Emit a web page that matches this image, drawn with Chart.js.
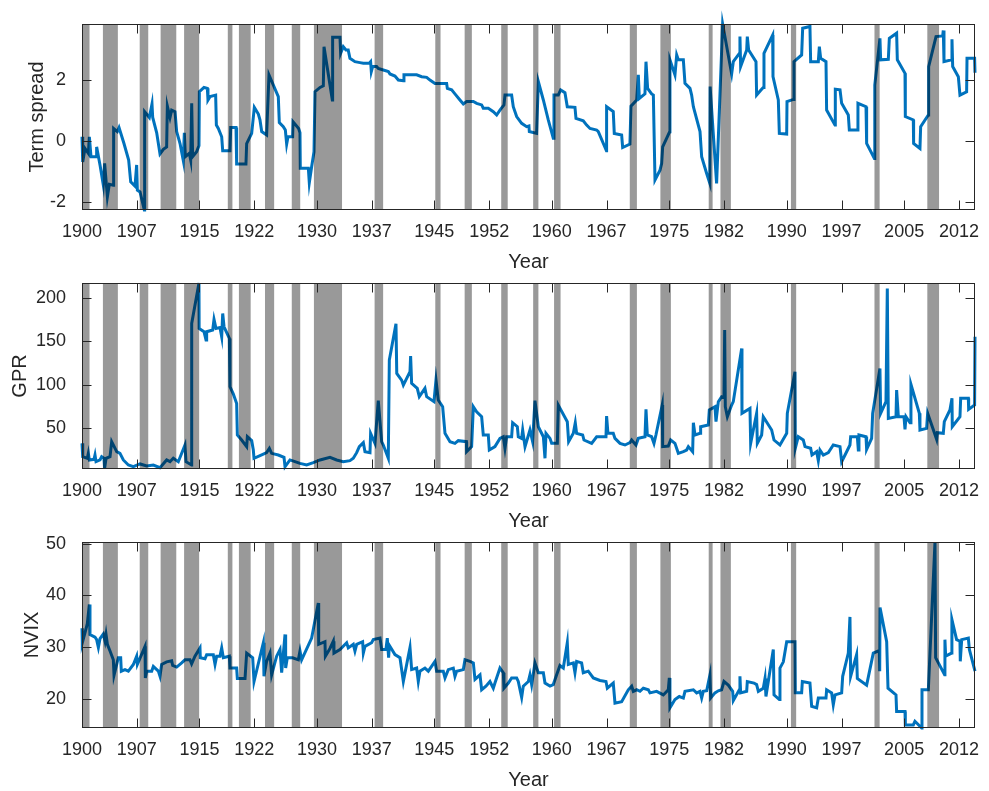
<!DOCTYPE html>
<html><head><meta charset="utf-8">
<script src="https://cdn.jsdelivr.net/npm/chart.js@4.4.0/dist/chart.umd.min.js"></script>
<style>
html,body{margin:0;padding:0;background:#fff;}
body{width:989px;height:791px;position:relative;overflow:hidden;}
.panel{position:absolute;left:0;width:989px;height:274px;}
</style></head><body>
<div class="panel" style="top:0px"><canvas id="c1" width="989" height="274"></canvas></div>
<div class="panel" style="top:259px"><canvas id="c2" width="989" height="274"></canvas></div>
<div class="panel" style="top:518px"><canvas id="c3" width="989" height="274"></canvas></div>
<script>
// ---------- data ----------
const yearTicks = [1900,1907,1915,1922,1930,1937,1945,1952,1960,1967,1975,1982,1990,1997,2005,2012];
const spreadTicks = [-2,0,2];
const gprTicks = [50,100,150,200];
const nvixTicks = [20,30,40,50];

const recessionStart = [1899.50,1902.67,1907.37,1910.04,1913.04,1918.62,1920.04,1923.37,1926.79,1929.62,1937.37,1945.12,1948.87,1953.54,1957.62,1960.29,1969.96,1973.87,1980.04,1981.54,1990.54,2001.21,2007.96];
const recessionEnd   = [1900.96,1904.58,1908.46,1912.04,1914.96,1919.21,1921.54,1924.54,1927.87,1933.21,1938.46,1945.79,1949.79,1954.37,1958.29,1961.12,1970.87,1975.21,1980.54,1982.87,1991.21,2001.87,2009.46];

const termSpread = [[1900.00,0.14],[1900.09,-0.68],[1900.38,-0.24],[1900.81,-0.40],[1900.94,0.14],[1901.15,-0.51],[1901.79,-0.51],[1901.87,-0.19],[1902.30,-0.78],[1902.72,-1.43],[1902.89,-0.73],[1903.24,-1.82],[1903.49,-1.41],[1904.00,-1.44],[1904.04,0.41],[1904.51,0.31],[1904.73,0.44],[1905.36,-0.08],[1905.96,-0.62],[1906.22,-1.33],[1906.77,-1.47],[1906.98,-0.78],[1907.07,-1.60],[1907.41,-1.66],[1907.96,-2.25],[1908.00,0.96],[1908.60,0.77],[1908.94,1.21],[1909.03,0.77],[1909.54,0.27],[1909.96,-0.42],[1910.39,-0.27],[1910.81,-0.19],[1910.90,1.14],[1911.24,0.77],[1911.45,1.01],[1911.88,0.96],[1912.09,0.31],[1912.52,-0.08],[1912.94,-0.64],[1913.07,0.27],[1913.20,-0.51],[1913.71,-0.40],[1913.88,-0.62],[1914.01,1.23],[1914.13,-0.51],[1914.64,-0.35],[1914.94,-0.15],[1914.99,1.61],[1915.58,1.75],[1916.01,1.72],[1916.09,1.34],[1916.35,1.45],[1917.07,1.50],[1917.16,0.52],[1917.41,0.41],[1917.84,0.14],[1917.97,-0.32],[1918.90,-0.32],[1918.99,0.44],[1919.67,0.44],[1919.75,-0.75],[1920.94,-0.75],[1921.03,-0.08],[1921.67,0.25],[1922.01,1.10],[1922.52,0.88],[1922.73,0.69],[1922.95,0.31],[1923.58,0.20],[1923.88,2.16],[1925.07,1.45],[1925.20,0.60],[1925.71,0.47],[1925.97,0.36],[1926.14,-0.10],[1926.31,0.14],[1926.90,0.14],[1926.95,0.63],[1927.67,0.41],[1927.84,0.27],[1927.88,-0.89],[1928.91,-0.89],[1929.03,-1.36],[1929.33,-0.84],[1929.63,-0.35],[1929.76,1.61],[1930.40,1.75],[1930.82,1.80],[1930.91,3.08],[1931.97,1.34],[1932.01,3.39],[1932.95,3.39],[1933.03,2.86],[1933.37,3.08],[1933.71,2.97],[1934.00,2.97],[1934.22,2.70],[1934.86,2.59],[1935.50,2.56],[1935.93,2.54],[1936.69,2.54],[1936.86,2.59],[1936.95,2.27],[1937.12,2.43],[1937.63,2.43],[1937.84,2.37],[1938.48,2.32],[1939.12,2.27],[1939.33,2.19],[1939.97,2.12],[1940.40,1.99],[1941.04,1.97],[1941.12,2.16],[1942.74,2.16],[1943.38,2.10],[1944.02,2.08],[1944.44,1.99],[1945.08,1.88],[1946.57,1.88],[1946.66,1.72],[1947.21,1.67],[1947.63,1.54],[1948.27,1.34],[1948.70,1.21],[1949.12,1.29],[1949.98,1.29],[1950.40,1.23],[1951.04,1.18],[1951.25,1.07],[1951.89,1.07],[1952.53,0.96],[1952.96,0.85],[1953.38,1.01],[1953.89,1.18],[1954.02,1.50],[1954.87,1.50],[1955.08,1.12],[1955.51,0.80],[1956.15,0.58],[1956.79,0.47],[1957.08,0.49],[1957.13,0.31],[1958.06,0.25],[1958.28,1.94],[1958.92,1.34],[1959.55,0.69],[1960.19,0.09],[1960.28,1.50],[1960.83,1.50],[1961.13,1.67],[1961.68,1.58],[1961.98,1.12],[1962.96,1.10],[1963.09,0.74],[1964.02,0.66],[1964.45,0.52],[1964.88,0.41],[1965.73,0.36],[1965.94,0.31],[1966.98,-0.32],[1967.00,1.12],[1967.85,0.96],[1967.98,0.25],[1968.92,0.20],[1969.05,-0.21],[1969.98,-0.10],[1970.11,1.14],[1970.84,1.34],[1971.05,2.16],[1971.18,1.39],[1971.90,1.54],[1972.03,2.59],[1972.24,1.72],[1972.75,1.54],[1972.97,1.50],[1973.18,-1.27],[1973.82,-0.95],[1974.03,-0.73],[1974.16,-0.19],[1975.05,0.30],[1975.09,2.65],[1975.73,2.16],[1975.95,2.81],[1976.16,2.65],[1976.80,2.65],[1977.01,1.88],[1977.65,1.72],[1977.86,1.50],[1978.08,1.12],[1978.93,0.31],[1979.14,-0.51],[1979.78,-1.06],[1980.18,-1.38],[1980.22,1.78],[1981.05,-1.38],[1981.82,3.82],[1982.97,2.19],[1983.18,2.59],[1983.95,2.86],[1984.03,3.41],[1984.12,2.43],[1984.89,2.97],[1984.97,3.41],[1985.14,2.97],[1986.08,2.59],[1986.16,1.50],[1986.80,1.69],[1987.01,1.75],[1987.10,2.86],[1988.21,3.46],[1988.25,2.10],[1988.93,1.34],[1989.06,0.25],[1990.00,0.23],[1990.04,1.29],[1990.85,1.36],[1990.93,2.59],[1991.91,2.81],[1992.04,3.68],[1992.97,3.74],[1993.06,2.59],[1994.04,2.59],[1994.17,3.08],[1994.34,2.70],[1995.02,2.59],[1995.10,1.01],[1996.17,0.52],[1996.21,1.69],[1996.81,1.67],[1997.02,1.23],[1997.87,0.85],[1998.00,0.36],[1999.02,0.36],[1999.10,1.23],[2000.13,1.12],[2000.21,-0.08],[2001.20,-0.57],[2001.25,1.83],[2001.91,3.35],[2002.00,2.65],[2002.98,2.67],[2003.11,3.35],[2004.04,3.52],[2004.13,2.65],[2005.11,2.21],[2005.15,0.80],[2006.17,0.69],[2006.21,-0.08],[2007.02,-0.24],[2007.11,0.47],[2008.09,0.85],[2008.13,2.43],[2009.07,3.41],[2009.92,3.43],[2010.00,3.61],[2010.09,2.59],[2011.07,2.65],[2011.11,3.32],[2011.20,2.43],[2011.92,2.10],[2012.13,1.50],[2012.98,1.61],[2013.03,2.70],[2014.00,2.70],[2014.05,2.23]];

const gpr = [[1900.00,32.7],[1900.09,17.4],[1900.68,15.5],[1900.81,21.2],[1900.94,13.6],[1901.53,14.3],[1901.66,19.3],[1901.79,11.6],[1902.30,13.6],[1902.51,17.4],[1902.81,15.5],[1902.89,4.0],[1903.07,15.5],[1903.58,17.4],[1903.79,34.6],[1904.43,23.1],[1904.85,21.2],[1905.28,13.6],[1905.92,7.8],[1906.56,5.9],[1907.41,9.0],[1908.26,6.7],[1909.11,7.8],[1909.96,4.7],[1910.81,13.6],[1911.24,11.6],[1911.66,15.5],[1912.30,11.6],[1913.15,30.8],[1913.28,11.6],[1914.00,7.8],[1914.01,170.5],[1914.94,217.0],[1914.96,164.8],[1915.58,161.0],[1915.84,151.4],[1915.92,161.0],[1916.69,162.9],[1916.86,175.1],[1917.11,164.8],[1917.62,165.9],[1917.84,155.2],[1917.97,182.0],[1918.14,166.7],[1918.82,153.3],[1918.90,97.8],[1919.33,89.4],[1919.75,78.6],[1919.84,42.3],[1920.39,36.5],[1921.03,28.9],[1921.12,40.3],[1921.67,35.8],[1921.88,25.0],[1921.97,15.5],[1923.16,20.4],[1923.58,22.0],[1923.93,27.0],[1924.22,21.2],[1925.07,19.3],[1925.80,16.6],[1925.93,5.9],[1926.56,13.6],[1927.20,11.6],[1927.84,9.7],[1928.69,7.8],[1929.54,10.5],[1930.40,13.6],[1931.67,16.6],[1932.52,13.6],[1933.37,11.6],[1934.22,12.8],[1934.65,15.5],[1935.08,22.0],[1935.42,28.9],[1935.93,33.5],[1936.14,23.1],[1936.78,22.0],[1936.86,44.2],[1937.42,32.7],[1937.84,81.7],[1938.27,34.6],[1938.48,30.8],[1939.12,15.5],[1939.25,128.4],[1940.10,170.0],[1940.20,113.1],[1940.82,105.4],[1941.04,99.7],[1941.89,115.0],[1941.97,133.0],[1942.10,101.6],[1942.82,95.9],[1943.08,86.3],[1943.80,95.9],[1944.02,86.3],[1944.95,80.6],[1945.21,105.4],[1945.50,82.5],[1946.06,74.8],[1946.36,44.2],[1947.00,34.6],[1947.63,32.7],[1948.06,35.8],[1949.10,34.6],[1949.12,23.1],[1949.76,28.9],[1949.98,74.8],[1950.40,69.0],[1951.04,63.3],[1951.25,42.3],[1951.89,42.3],[1952.02,25.0],[1952.74,28.9],[1953.38,38.4],[1953.81,40.3],[1954.02,27.0],[1954.23,40.3],[1954.87,40.3],[1955.00,56.4],[1955.60,51.8],[1955.72,40.3],[1956.15,38.4],[1956.28,48.0],[1956.58,28.9],[1957.21,48.0],[1957.55,34.6],[1957.85,81.7],[1958.28,51.8],[1958.92,40.3],[1959.13,15.5],[1959.26,44.2],[1959.77,38.4],[1959.98,32.7],[1960.71,32.7],[1960.83,76.7],[1961.98,57.6],[1962.15,34.6],[1962.75,44.2],[1963.00,56.4],[1963.17,44.2],[1963.94,42.3],[1964.11,36.5],[1965.09,32.7],[1965.73,40.3],[1966.37,40.3],[1966.92,40.3],[1967.00,64.0],[1967.17,44.2],[1967.85,44.2],[1968.07,38.4],[1968.71,32.7],[1969.35,30.8],[1969.98,33.5],[1970.20,36.5],[1970.75,30.8],[1971.05,38.4],[1971.90,40.3],[1972.03,71.7],[1972.20,42.3],[1972.75,40.3],[1973.05,32.7],[1973.30,42.3],[1974.10,76.7],[1974.16,28.9],[1974.88,29.6],[1975.18,36.5],[1975.73,32.7],[1976.16,21.2],[1976.80,23.1],[1977.22,25.0],[1977.44,28.9],[1977.99,23.1],[1978.08,56.4],[1978.29,42.3],[1978.93,44.2],[1979.01,51.8],[1979.99,53.7],[1980.12,71.0],[1980.84,74.8],[1980.97,57.6],[1981.27,80.6],[1981.69,86.3],[1981.99,85.5],[1982.08,162.9],[1982.16,74.8],[1982.42,63.3],[1982.97,76.7],[1983.18,80.6],[1984.25,141.8],[1984.29,67.2],[1985.31,72.9],[1985.40,32.7],[1986.16,67.2],[1986.25,32.7],[1986.80,42.3],[1987.01,63.3],[1988.08,48.0],[1988.38,36.5],[1989.14,30.8],[1990.00,44.2],[1990.08,67.2],[1991.06,115.0],[1991.10,27.0],[1991.48,40.3],[1992.12,36.5],[1992.34,28.9],[1993.06,27.0],[1993.23,19.3],[1993.83,23.1],[1994.04,12.8],[1994.25,25.0],[1994.68,19.3],[1995.32,22.0],[1995.95,30.8],[1996.81,28.9],[1997.02,11.6],[1997.45,19.3],[1998.08,30.8],[1998.17,40.3],[1999.02,40.3],[1999.15,25.0],[1999.23,42.3],[2000.13,40.3],[2000.21,25.8],[2000.85,38.4],[2000.98,67.2],[2001.91,118.8],[2002.00,67.2],[2002.68,80.6],[2002.85,210.7],[2002.98,61.4],[2003.96,63.3],[2004.04,94.0],[2004.26,63.3],[2004.98,63.3],[2005.11,48.8],[2005.24,63.3],[2005.75,56.4],[2005.87,100.6],[2006.94,67.2],[2007.02,48.0],[2007.87,49.9],[2008.00,67.2],[2009.15,37.3],[2009.24,45.0],[2010.00,44.2],[2010.13,57.6],[2010.85,71.0],[2011.11,84.4],[2011.15,51.8],[2012.13,63.3],[2012.22,84.4],[2013.20,84.4],[2013.24,71.7],[2014.00,76.7],[2014.05,155.2]];

const nvix = [[1900.00,33.6],[1900.04,30.8],[1900.38,32.7],[1900.68,34.5],[1900.94,38.2],[1901.02,32.4],[1901.66,31.9],[1901.87,31.4],[1902.09,29.9],[1902.30,31.6],[1902.72,32.5],[1902.94,31.1],[1903.07,32.4],[1903.24,30.5],[1903.58,29.2],[1904.00,27.5],[1904.09,24.5],[1904.64,27.9],[1904.94,27.9],[1905.02,25.3],[1905.49,25.6],[1905.92,25.3],[1906.56,26.6],[1906.98,28.2],[1907.07,26.6],[1908.05,30.1],[1908.09,24.0],[1908.26,25.3],[1908.90,25.3],[1909.11,26.2],[1909.75,25.3],[1909.96,24.3],[1910.17,26.6],[1910.81,27.1],[1911.45,27.3],[1911.58,26.4],[1912.09,26.1],[1912.73,26.9],[1913.15,27.5],[1913.79,27.5],[1914.00,26.7],[1914.43,28.2],[1915.07,29.8],[1915.11,27.9],[1915.71,27.7],[1915.92,28.5],[1916.77,28.5],[1916.99,26.6],[1917.20,28.2],[1917.62,28.2],[1917.84,29.8],[1918.05,27.9],[1918.82,28.2],[1918.90,25.9],[1919.75,25.9],[1919.84,23.9],[1920.82,23.9],[1921.03,28.8],[1921.80,27.9],[1921.97,23.3],[1923.16,30.8],[1923.24,24.3],[1923.58,27.2],[1924.01,28.8],[1924.22,24.6],[1924.86,28.2],[1925.29,29.5],[1925.50,25.0],[1925.93,32.4],[1926.01,25.9],[1926.22,27.9],[1926.90,27.9],[1927.63,27.5],[1927.84,29.2],[1928.05,27.5],[1929.33,31.7],[1930.18,38.5],[1930.23,30.5],[1931.03,31.0],[1931.08,28.2],[1931.67,29.7],[1932.10,31.1],[1932.18,28.8],[1932.95,29.5],[1933.80,30.8],[1934.01,29.8],[1934.65,30.5],[1934.86,29.2],[1935.08,30.5],[1935.84,31.0],[1935.93,28.8],[1936.14,30.1],[1936.99,30.8],[1937.20,31.4],[1938.06,31.7],[1938.27,29.5],[1938.82,29.5],[1938.99,31.7],[1939.16,27.9],[1939.25,30.3],[1939.97,28.5],[1940.61,27.9],[1941.04,23.3],[1941.89,29.9],[1942.10,25.6],[1942.74,25.9],[1942.95,23.3],[1943.16,25.3],[1943.80,25.9],[1944.23,25.3],[1945.08,27.2],[1945.29,25.3],[1946.14,25.3],[1946.36,24.0],[1946.78,25.6],[1947.42,25.9],[1947.63,24.3],[1947.85,25.3],[1948.70,25.6],[1948.91,27.5],[1949.55,27.2],[1949.98,26.9],[1950.19,23.7],[1950.83,24.6],[1951.04,21.7],[1951.59,22.4],[1952.10,23.3],[1952.53,22.0],[1952.74,23.0],[1953.38,25.9],[1953.81,25.0],[1953.89,22.0],[1954.45,23.0],[1954.87,24.0],[1955.51,24.0],[1955.72,23.3],[1956.15,20.2],[1956.36,22.4],[1957.00,23.3],[1957.21,24.6],[1957.43,22.7],[1957.85,26.9],[1958.28,25.0],[1958.92,25.0],[1959.13,23.0],[1959.77,22.4],[1960.19,22.7],[1960.62,24.6],[1961.04,26.4],[1961.47,25.9],[1961.98,30.8],[1962.11,26.6],[1962.75,26.9],[1962.96,25.0],[1963.17,27.2],[1963.81,26.9],[1964.02,25.0],[1964.66,25.3],[1965.30,24.0],[1966.15,23.5],[1966.92,23.3],[1967.09,22.0],[1967.85,23.0],[1968.07,19.1],[1968.92,19.4],[1969.77,21.7],[1970.20,22.4],[1970.41,21.4],[1970.84,21.7],[1971.26,21.4],[1971.69,22.0],[1972.33,21.7],[1972.54,21.1],[1973.39,21.4],[1974.24,20.7],[1974.88,21.7],[1975.01,24.0],[1975.09,18.2],[1975.73,19.8],[1976.28,20.4],[1976.80,20.1],[1977.01,21.4],[1978.08,21.7],[1978.50,21.1],[1978.93,21.4],[1979.14,20.1],[1979.35,21.4],[1979.78,21.5],[1980.20,24.6],[1980.29,20.1],[1980.84,21.1],[1981.27,21.5],[1981.69,21.7],[1981.99,23.3],[1982.54,22.6],[1983.10,21.4],[1983.18,19.6],[1983.95,21.7],[1984.03,24.3],[1984.12,21.1],[1984.89,21.4],[1984.97,23.3],[1985.82,23.0],[1986.16,22.7],[1986.38,21.4],[1987.01,22.0],[1987.23,23.9],[1987.35,20.4],[1988.29,29.5],[1988.38,20.7],[1989.06,19.8],[1989.14,25.9],[1989.57,27.1],[1990.00,31.0],[1991.06,31.0],[1991.10,21.1],[1991.91,21.1],[1992.00,23.3],[1992.97,23.0],[1993.19,18.5],[1993.83,18.2],[1994.04,20.1],[1995.02,20.1],[1995.10,21.7],[1995.74,21.1],[1995.95,18.8],[1996.17,20.7],[1997.02,21.1],[1997.15,24.3],[1997.87,28.8],[1998.08,35.8],[1998.17,24.3],[1998.93,28.5],[1999.02,23.9],[2000.21,22.6],[2001.06,28.8],[2001.83,29.3],[2001.88,25.3],[2001.92,37.6],[2002.77,31.0],[2002.94,22.0],[2003.96,20.7],[2004.04,17.5],[2005.11,17.5],[2005.15,14.9],[2006.17,14.9],[2006.38,15.6],[2007.24,14.3],[2007.28,21.7],[2008.09,21.7],[2008.94,50.3],[2009.02,27.9],[2010.17,24.6],[2010.21,31.4],[2010.30,28.2],[2011.07,28.8],[2011.10,35.3],[2011.70,31.4],[2012.13,31.1],[2012.17,27.2],[2012.35,31.4],[2013.20,31.7],[2013.33,29.5],[2014.05,25.3]];

// ---------- drawing ----------
const FONT = '"Liberation Sans", Arial, Helvetica, sans-serif';
const TXT = '#262626';
Chart.defaults.font.family = FONT;
Chart.defaults.color = TXT;

const frame = {
  id: 'frame',
  afterDatasetsDraw(chart) {
    const {ctx, chartArea: a, scales: {x, y}} = chart;
    ctx.save();
    ctx.beginPath();
    ctx.rect(a.left, a.top, a.right - a.left, a.bottom - a.top);
    ctx.clip();
    ctx.fillStyle = 'rgba(0,0,0,0.4)';
    recessionStart.forEach((s, i) => {
      const x0 = x.getPixelForValue(s), x1 = x.getPixelForValue(recessionEnd[i]);
      ctx.fillRect(x0, a.top, x1 - x0, a.bottom - a.top);
    });
    ctx.restore();
    ctx.save();
    ctx.strokeStyle = '#262626';
    ctx.lineWidth = 1;
    const L = Math.round(a.left) + 0.5, R = Math.round(a.right) - 0.5;
    const T = Math.round(a.top) + 0.5, B = Math.round(a.bottom) - 0.5;
    ctx.strokeRect(L, T, R - L, B - T);
    const tl = 9;
    ctx.beginPath();
    x.ticks.forEach(t => {
      const px = Math.round(x.getPixelForValue(t.value)) + 0.5;
      ctx.moveTo(px, B); ctx.lineTo(px, B - tl);
      ctx.moveTo(px, T); ctx.lineTo(px, T + tl);
    });
    y.ticks.forEach(t => {
      const py = Math.round(y.getPixelForValue(t.value)) + 0.5;
      ctx.moveTo(L, py); ctx.lineTo(L + tl, py);
      ctx.moveTo(R, py); ctx.lineTo(R - tl, py);
    });
    ctx.stroke();
    ctx.restore();
  }
};

function makeChart(id, series, label, yMin, yMax, yTicks, yTitlePad, xTitlePad) {
  return new Chart(document.getElementById(id), {
    type: 'line',
    data: {
      datasets: [{
        data: series.map(p => ({x: p[0], y: p[1]})),
        borderColor: '#0072BD',
        borderWidth: 3,
        pointRadius: 0,
        tension: 0,
        fill: false,
        clip: false,
        borderJoinStyle: 'miter'
      }]
    },
    options: {
      responsive: false,
      animation: false,
      events: [],
      layout: {padding: {top: 24, right: 14, left: 0, bottom: 0}},
      plugins: {legend: {display: false}, tooltip: {enabled: false}},
      scales: {
        x: {
          type: 'linear', min: 1900, max: 2014.05,
          grid: {display: false}, border: {display: false},
          afterBuildTicks: s => { s.ticks = yearTicks.map(v => ({value: v})); },
          afterFit: s => { s.height = 64; },
          ticks: {autoSkip: false, maxRotation: 0, padding: 3, color: TXT,
                  font: {size: 18, family: FONT}, callback: v => String(v)},
          title: {display: true, text: 'Year', color: TXT, font: {size: 20, family: FONT},
                  padding: {top: 0, bottom: xTitlePad}}
        },
        y: {
          type: 'linear', min: yMin, max: yMax,
          grid: {display: false}, border: {display: false},
          afterBuildTicks: s => { s.ticks = yTicks.map(v => ({value: v})); },
          afterFit: s => { s.width = 82; },
          ticks: {padding: 8, color: TXT, font: {size: 18, family: FONT}, callback: v => String(v)},
          title: {display: true, text: label, color: TXT, font: {size: 20, family: FONT},
                  padding: {top: yTitlePad, bottom: 0}}
        }
      }
    },
    plugins: [frame]
  });
}

makeChart('c1', termSpread, 'Term spread', -2.25, 3.82, spreadTicks, 25, 0);
makeChart('c2', gpr, 'GPR', 3.2, 217, gprTicks, 8, 0);
makeChart('c3', nvix, 'NVIX', 14.3, 50.3, nvixTicks, 20, 0);
</script>
</body></html>
